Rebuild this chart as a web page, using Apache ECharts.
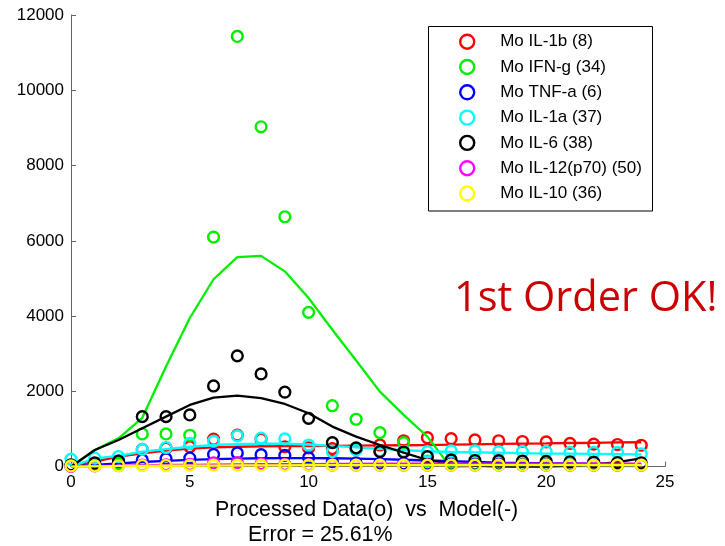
<!DOCTYPE html>
<html>
<head>
<meta charset="utf-8">
<script src="https://cdn.jsdelivr.net/npm/echarts@6/dist/echarts.min.js"></script>
<style>html,body{margin:0;padding:0;background:#fff}#c{width:725px;height:546px}</style>
</head>
<body>
<div id="c"></div>
<script>
const timePoints = [0,1,2,3,4,5,6,7,8,9,10,11,12,13,14,15,16,17,18,19,20,21,22,23,24];
const seriesNames = ['Mo IL-1b (8)','Mo IFN-g (34)','Mo TNF-a (6)','Mo IL-1a (37)','Mo IL-6 (38)','Mo IL-12(p70) (50)','Mo IL-10 (36)'];
const seriesColors = ['#ff0000','#00ee00','#0000ff','#00ffff','#000000','#ff00ff','#ffff00'];
// processed data (circles)
const dataIL1b  = [30,40,120,460,490,530,730,840,730,530,500,480,480,577,690,770,745,710,690,670,660,620,600,590,570];
const dataIFNg  = [40,60,80,870,870,835,6100,11430,9030,6640,4100,1620,1260,905,640,150,100,80,70,60,60,50,50,50,50];
const dataTNFa  = [20,30,150,178,215,230,325,365,320,300,240,133,100,90,80,70,60,60,60,50,50,50,50,50,50];
const dataIL1a  = [200,230,270,460,510,620,680,820,760,740,577,400,445,420,410,400,420,420,400,400,400,380,380,380,340];
const dataIL6   = [50,100,150,1330,1330,1375,2145,2945,2465,1980,1285,640,500,400,390,265,180,165,160,150,140,130,120,110,100];
const dataIL12  = [10,20,30,40,50,60,100,110,80,60,50,40,40,40,40,40,40,40,40,40,40,40,40,40,40];
const dataIL10  = [20,20,25,30,30,35,40,40,40,40,40,40,40,40,40,40,40,40,40,40,40,40,40,40,40];
// model (lines)
const modelIL1b = [0,133,266,355,425,480,515,530,540,545,550,555,560,565,570,575,585,595,605,615,620,630,635,645,650];
const modelIFNg = [0,440,755,1300,2660,3950,4980,5570,5600,5190,4480,3640,2820,1995,1375,800,-30,-60,-60,-60,-60,-60,-60,-60,-60];
const modelTNFa = [0,50,90,125,155,180,200,215,225,230,230,225,215,200,185,165,145,125,110,100,90,85,80,75,70];
const modelIL1a = [0,220,285,400,465,530,577,600,610,610,590,555,515,475,440,410,390,380,370,360,350,345,340,335,330];
const modelIL6  = [0,445,710,1020,1330,1640,1835,1890,1820,1667,1420,1065,800,577,372,178,80,30,5,-10,0,20,60,120,220];
const modelIL12 = [0,15,25,35,45,50,55,60,65,70,70,75,75,80,80,80,80,80,80,80,80,80,80,80,80];
const modelIL10 = [0,10,15,20,25,30,30,35,35,35,40,40,40,40,40,40,40,40,40,40,40,40,40,40,40];
const xTicks = [0,5,10,15,20,25];
const yTicks = [0,2000,4000,6000,8000,10000,12000];
const xLabelLine1 = 'Processed Data(o)  vs  Model(-)';
const xLabelLine2 = 'Error = 25.61%';
const annotation = '1st Order OK!';

const dataSets = [dataIL1b,dataIFNg,dataTNFa,dataIL1a,dataIL6,dataIL12,dataIL10];
const modelSets = [modelIL1b,modelIFNg,modelTNFa,modelIL1a,modelIL6,modelIL12,modelIL10];

const series = [];
for (let i = 0; i < seriesNames.length; i++) {
  series.push({
    name: seriesNames[i], type: 'scatter', symbol: 'circle', symbolSize: 10.8,
    itemStyle: { color: 'rgba(255,255,255,0)', borderColor: seriesColors[i], borderWidth: 2.4, opacity: 1 },
    data: timePoints.map((t, k) => [t, dataSets[i][k]]), z: 2 + i, silent: true
  });
  series.push({
    name: 'model ' + i, type: 'line', symbol: 'none', clip: true,
    lineStyle: { color: seriesColors[i], width: 2.3 },
    data: timePoints.map((t, k) => [t, modelSets[i][k]]), z: 2 + i, silent: true
  });
}

const chart = echarts.init(document.getElementById('c'), null, { renderer: 'canvas' });
const font = 'Liberation Sans';
chart.setOption({
  animation: false,
  backgroundColor: '#fff',
  grid: { left: 71, top: 15, width: 594, height: 451.7, containLabel: false },
  xAxis: {
    type: 'value', min: 0, max: 25, interval: 5,
    axisLine: { show: true, lineStyle: { color: '#666', width: 1 } },
    axisTick: { show: true, inside: true, length: 5, lineStyle: { color: '#666' } },
    axisLabel: { color: '#000', fontFamily: font, fontSize: 17, margin: 7,
      formatter: v => xTicks.includes(v) ? String(v) : '' },
    splitLine: { show: false }
  },
  yAxis: {
    type: 'value', min: 0, max: 12000, interval: 2000,
    axisLine: { show: true, lineStyle: { color: '#666', width: 1 } },
    axisTick: { show: true, inside: true, length: 5, lineStyle: { color: '#666' } },
    axisLabel: { color: '#000', fontFamily: font, fontSize: 17, margin: 7,
      formatter: v => yTicks.includes(v) ? String(v) : '' },
    splitLine: { show: false }
  },
  legend: {
    data: seriesNames, orient: 'vertical', left: 459, top: 33.2, padding: 0,
    itemWidth: 56, itemHeight: 14, itemGap: 8.3,
    icon: 'circle',
    itemStyle: { color: 'rgba(255,255,255,0)', borderWidth: 2.4, opacity: 1 },
    textStyle: { color: '#000', fontFamily: font, fontSize: 17 }
  },
  graphic: [
    { type: 'rect', shape: { x: 428.5, y: 26.5, width: 224, height: 184.5 },
      style: { fill: '#fff', stroke: '#000', lineWidth: 1 }, z: 0 },
    { type: 'text', style: { x: 454, y: 299.5, text: annotation, fill: '#cc0000',
      font: '41.5px "Open Sans"', verticalAlign: 'middle', align: 'left' }, z: 10 },
    { type: 'text', style: { x: 215, y: 509.7, text: xLabelLine1, fill: '#000',
      font: '21.4px "Liberation Sans"', verticalAlign: 'middle', align: 'left' } },
    { type: 'text', style: { x: 248, y: 534.7, text: xLabelLine2, fill: '#000',
      font: '21.4px "Liberation Sans"', verticalAlign: 'middle', align: 'left' } }
  ],
  series: series
});
</script>
</body>
</html>
